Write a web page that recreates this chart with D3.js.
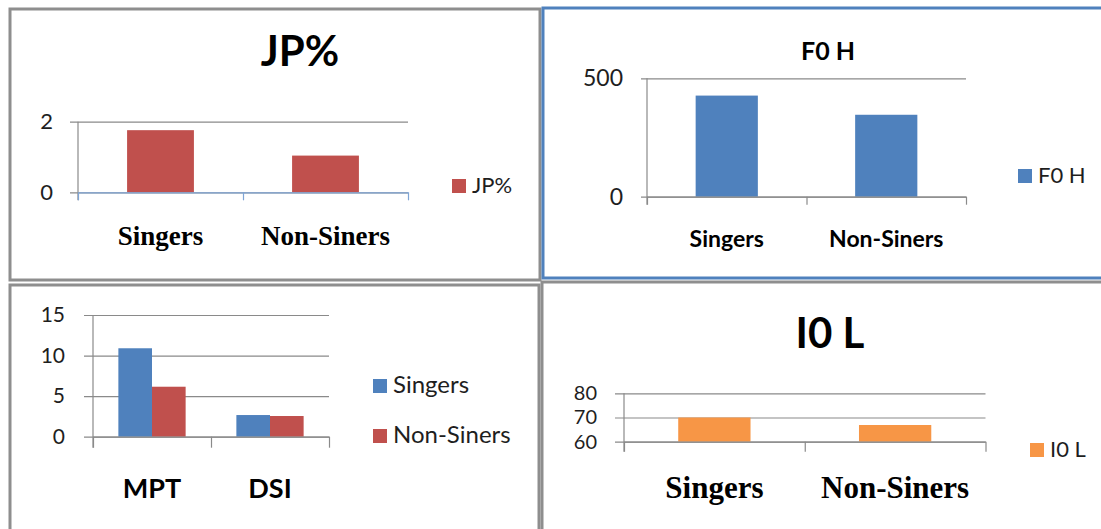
<!DOCTYPE html>
<html>
<head>
<meta charset="utf-8">
<script src="https://cdn.jsdelivr.net/npm/d3@7"></script>
<style>
  html, body { margin: 0; padding: 0; background: #fff; }
  svg { display: block; }
</style>
</head>
<body>
<svg id="chart" width="1101" height="529"></svg>
<script>
// Chart values
var groupNames = ["Singers", "Non-Siners"];

var jpValues = [1.76, 1.04];
var jpTicks = [0, 2];

var f0hValues = [427, 346];
var f0hTicks = [0, 500];

var measureNames = ["MPT", "DSI"];
var singersValues = [10.9, 2.67];
var nonSingersValues = [6.16, 2.55];
var measureTicks = [0, 5, 10, 15];

var i0lValues = [70.0, 66.9];
var i0lTicks = [60, 70, 80];

// Colours
var red = "#c0504d", blue = "#4f81bd", orange = "#f79646";
var gridColor = "#8a8a8a";
var sans = "Lato, 'Open Sans', sans-serif";
var serif = "'Liberation Serif', 'Times New Roman', serif";

var svg = d3.select("#chart");
svg.append("rect").attr("width", 1101).attr("height", 529).attr("fill", "#fff");

// Panel frames
var frames = [
    {x: 10, y: 9, w: 530, h: 271, color: "#8e8e8e"},
    {x: 543, y: 8, w: 600, h: 270, color: blue},
    {x: 10, y: 285, w: 529, h: 300, color: "#8e8e8e"},
    {x: 542, y: 282, w: 600, h: 300, color: "#8e8e8e"}
];

// Draw one bar chart inside a frame
function drawPanel(opt) {
    var g = svg.append("g");
    var p = opt.plot;

    var y = d3.scaleLinear()
        .domain([opt.ticks[0], opt.ticks[opt.ticks.length - 1]])
        .range([p.bottom, p.top]);

    var x = d3.scaleBand()
        .domain(opt.categories)
        .range([p.left, p.right])
        .padding(0);

    var seriesNames = opt.series.map(function(s) { return s.name; });
    var groupW = x.bandwidth() * opt.barFrac;
    var sub = d3.scaleBand()
        .domain(seriesNames)
        .range([0, groupW])
        .padding(0);

    // gridlines + tick labels
    var yAxis = d3.axisLeft(y)
        .tickValues(opt.ticks)
        .tickSizeInner(-(p.right - p.left + p.stub))
        .tickSizeOuter(0)
        .tickPadding(opt.labelGap)
        .tickFormat(d3.format("d"));

    var yg = g.append("g")
        .attr("transform", "translate(" + (p.left - p.stub) + ",0)")
        .call(yAxis);
    yg.select(".domain").remove();
    yg.selectAll("line").attr("stroke", gridColor).attr("stroke-width", 1.2);
    yg.selectAll("text")
        .attr("fill", "#1e1e1e")
        .style("font-family", sans)
        .style("font-size", opt.tickFont + "px");

    // bars
    opt.series.forEach(function(s) {
        g.selectAll(null)
            .data(opt.categories.map(function(c, i) { return {cat: c, value: s.values[i]}; }))
            .join("rect")
            .attr("x", function(d) {
                return x(d.cat) + (x.bandwidth() - groupW) / 2 + sub(s.name);
            })
            .attr("y", function(d) { return y(d.value); })
            .attr("width", sub.bandwidth())
            .attr("height", function(d) { return y(opt.ticks[0]) - y(d.value); })
            .attr("fill", s.color);
    });

    // vertical axis line
    g.append("line")
        .attr("x1", p.left).attr("x2", p.left)
        .attr("y1", p.top).attr("y2", p.bottom + p.tickLen)
        .attr("stroke", gridColor)
        .attr("stroke-width", 1.2);

    // category axis with ticks between groups
    var edge = d3.scaleLinear()
        .domain([0, opt.categories.length])
        .range([p.left, p.right]);

    var xg = g.append("g")
        .attr("transform", "translate(0," + p.bottom + ")")
        .call(d3.axisBottom(edge)
            .tickValues(d3.range(opt.categories.length + 1))
            .tickSizeInner(p.tickLen)
            .tickSizeOuter(0)
            .tickFormat(""));
    xg.select(".domain").attr("stroke", opt.axisColor).attr("stroke-width", 1.2);
    xg.selectAll("line").attr("stroke", opt.axisColor).attr("stroke-width", 1.2);

    // category labels
    g.selectAll(null)
        .data(opt.categories)
        .join("text")
        .attr("x", function(d) { return x(d) + x.bandwidth() / 2; })
        .attr("y", opt.catY)
        .attr("text-anchor", "middle")
        .attr("fill", "#000")
        .style("font-family", opt.catFamily)
        .style("font-weight", "bold")
        .style("font-size", opt.catFont + "px")
        .text(function(d) { return d; });

    // title
    if (opt.title) {
        g.append("text")
            .attr("x", opt.title.x)
            .attr("y", opt.title.y)
            .attr("text-anchor", "middle")
            .attr("fill", "#000")
            .style("font-family", sans)
            .style("font-weight", "bold")
            .style("font-size", opt.title.size + "px")
            .text(opt.title.text);
    }

    // legend
    opt.series.forEach(function(s, i) {
        var ly = opt.legend.y + i * opt.legend.step;
        g.append("rect")
            .attr("x", opt.legend.x)
            .attr("y", ly)
            .attr("width", 14)
            .attr("height", 14)
            .attr("fill", s.color);
        g.append("text")
            .attr("x", opt.legend.x + 20)
            .attr("y", ly + 14)
            .attr("fill", "#1e1e1e")
            .style("font-family", sans)
            .style("font-size", opt.legend.size + "px")
            .text(s.name);
    });
}

// JP%
drawPanel({
    plot: {left: 78, right: 408, top: 121.7, bottom: 192.3, stub: 8, tickLen: 8},
    ticks: jpTicks, categories: groupNames,
    series: [{name: "JP%", values: jpValues, color: red}],
    barFrac: 0.405, labelGap: 17, tickFont: 22,
    axisColor: "#7fa5d6",
    catY: 245, catFont: 27, catFamily: serif,
    title: {text: "JP%", x: 300, y: 66, size: 42},
    legend: {x: 452, y: 179, step: 0, size: 22}
});

// F0 H
drawPanel({
    plot: {left: 647, right: 966, top: 78.3, bottom: 196.7, stub: 6, tickLen: 8},
    ticks: f0hTicks, categories: groupNames,
    series: [{name: "F0 H", values: f0hValues, color: blue}],
    barFrac: 0.39, labelGap: 18, tickFont: 23,
    axisColor: gridColor,
    catY: 247, catFont: 23, catFamily: sans,
    title: {text: "F0 H", x: 828, y: 60, size: 25},
    legend: {x: 1018, y: 169, step: 0, size: 22}
});

// MPT / DSI
drawPanel({
    plot: {left: 93, right: 329, top: 315, bottom: 436.7, stub: 9, tickLen: 11},
    ticks: measureTicks, categories: measureNames,
    series: [
        {name: "Singers", values: singersValues, color: blue},
        {name: "Non-Siners", values: nonSingersValues, color: red}
    ],
    barFrac: 0.57, labelGap: 19, tickFont: 21,
    axisColor: gridColor,
    catY: 498, catFont: 27, catFamily: sans,
    title: null,
    legend: {x: 373, y: 379, step: 50, size: 24}
});

// I0 L
drawPanel({
    plot: {left: 624, right: 985.5, top: 393.3, bottom: 441.7, stub: 9, tickLen: 10},
    ticks: i0lTicks, categories: groupNames,
    series: [{name: "I0 L", values: i0lValues, color: orange}],
    barFrac: 0.40, labelGap: 18, tickFont: 20,
    axisColor: gridColor,
    catY: 498, catFont: 31, catFamily: serif,
    title: {text: "I0 L", x: 830, y: 348, size: 42},
    legend: {x: 1030, y: 443, step: 0, size: 22}
});

// frames on top
svg.selectAll(".frame")
    .data(frames)
    .join("rect")
    .attr("class", "frame")
    .attr("x", function(d) { return d.x; })
    .attr("y", function(d) { return d.y; })
    .attr("width", function(d) { return d.w; })
    .attr("height", function(d) { return d.h; })
    .attr("fill", "none")
    .attr("stroke", function(d) { return d.color; })
    .attr("stroke-width", 3);
</script>
</body>
</html>
